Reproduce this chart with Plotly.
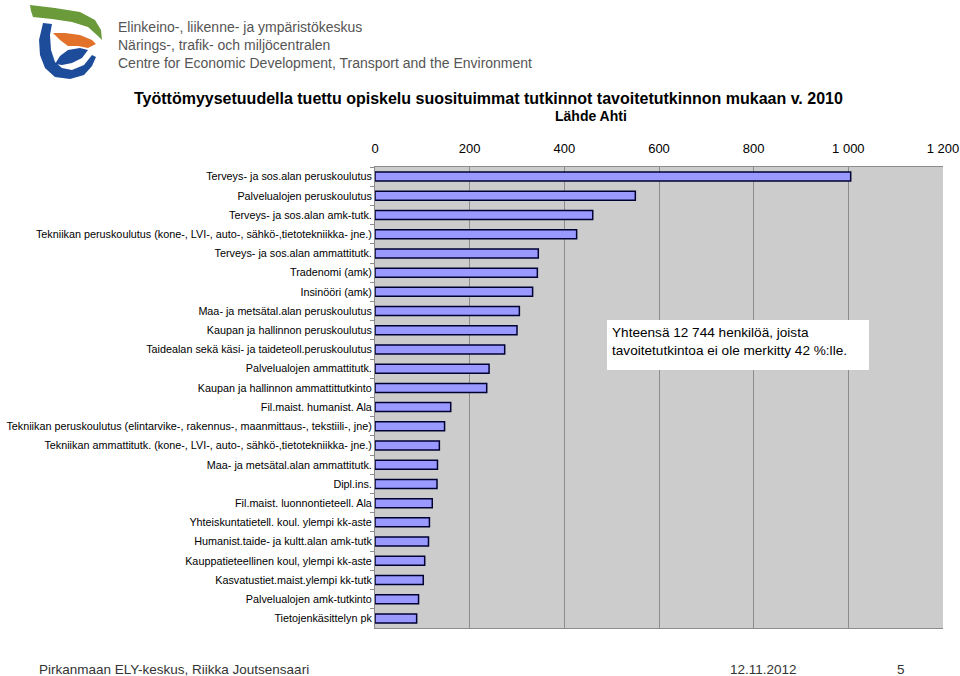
import plotly.graph_objects as go

categories = [
    "Terveys- ja sos.alan peruskoulutus",
    "Palvelualojen peruskoulutus",
    "Terveys- ja sos.alan amk-tutk.",
    "Tekniikan peruskoulutus (kone-, LVI-, auto-, sähkö-,tietotekniikka- jne.)",
    "Terveys- ja sos.alan ammattitutk.",
    "Tradenomi (amk)",
    "Insinööri (amk)",
    "Maa- ja metsätal.alan peruskoulutus",
    "Kaupan ja hallinnon peruskoulutus",
    "Taidealan sekä käsi- ja taideteoll.peruskoulutus",
    "Palvelualojen ammattitutk.",
    "Kaupan ja hallinnon ammattittutkinto",
    "Fil.maist. humanist. Ala",
    "Tekniikan peruskoulutus (elintarvike-, rakennus-, maanmittaus-, tekstiili-, jne)",
    "Tekniikan ammattitutk. (kone-, LVI-, auto-, sähkö-,tietotekniikka- jne.)",
    "Maa- ja metsätal.alan ammattitutk.",
    "Dipl.ins.",
    "Fil.maist. luonnontieteell. Ala",
    "Yhteiskuntatietell. koul. ylempi kk-aste",
    "Humanist.taide- ja kultt.alan amk-tutk",
    "Kauppatieteellinen koul, ylempi kk-aste",
    "Kasvatustiet.maist.ylempi kk-tutk",
    "Palvelualojen amk-tutkinto",
    "Tietojenkäsittelyn pk",
]
values = [1005, 550, 460, 426, 345, 343, 333, 305, 300, 274, 241, 236,
          160, 147, 136, 132, 131, 121, 115, 113, 105, 102, 92, 88]
tick_vals = [0, 200, 400, 600, 800, 1000, 1200]
tick_text = ["0", "200", "400", "600", "800", "1 000", "1 200"]

title_text = "Työttömyysetuudella tuettu opiskelu suosituimmat tutkinnot tavoitetutkinnon mukaan v. 2010"
subtitle_text = "Lähde Ahti"
note_text = "Yhteensä 12 744 henkilöä, joista<br>tavoitetutkintoa ei ole merkitty 42 %:lle."
org_lines = ["Elinkeino-, liikenne- ja ympäristökeskus",
             "Närings-, trafik- och miljöcentralen",
             "Centre for Economic Development, Transport and the Environment"]
footer_left = "Pirkanmaan ELY-keskus, Riikka Joutsensaari"
footer_date = "12.11.2012"
footer_page = "5"

W, H = 960, 676
ML, MT = 375, 167
MR, MB = W - 943, H - 628
PW, PH = W - ML - MR, H - MT - MB

def fx(px):
    return (px - ML) / PW

def fy(py):
    return (H - MB - py) / PH

def path(points, close=True):
    s = "M " + " L ".join(f"{fx(x):.4f},{fy(y):.4f}" for x, y in points)
    return s + (" Z" if close else "")

FONT = "Liberation Sans, Arial, sans-serif"

fig = go.Figure(go.Bar(
    x=values, y=categories, orientation="h",
    marker=dict(color="#9999FF", line=dict(color="#000033", width=1.5)),
    hoverinfo="x+y",
))

fig.update_layout(
    width=W, height=H,
    margin=dict(l=ML, r=MR, t=MT, b=MB, autoexpand=False),
    paper_bgcolor="white", plot_bgcolor="#CCCCCC",
    bargap=0.53, showlegend=False,
    font=dict(family=FONT, color="black"),
)
fig.update_xaxes(
    side="top", range=[0, 1200], tickvals=tick_vals, ticktext=tick_text,
    tickfont=dict(size=13), showgrid=True, gridcolor="#8C8C8C", gridwidth=1,
    showline=True, linecolor="#8C8C8C", mirror=True, zeroline=False,
    ticks="", ticklabelstandoff=8, ticklabeloverflow="allow",
    fixedrange=True, automargin=False,
)
fig.update_yaxes(
    autorange="reversed", tickfont=dict(size=10.8),
    showline=True, linecolor="#8C8C8C", ticks="outside", ticklen=4,
    tickcolor="#8C8C8C", tickson="boundaries", showgrid=False, fixedrange=True,
    automargin=False,
)

ann = []
ann.append(dict(x=fx(488), y=fy(98), xref="paper", yref="paper", text=f"<b>{title_text}</b>",
                showarrow=False, font=dict(size=16, family=FONT), xanchor="center", yanchor="middle"))
ann.append(dict(x=fx(591), y=fy(116), xref="paper", yref="paper", text=f"<b>{subtitle_text}</b>",
                showarrow=False, font=dict(size=14, family=FONT), xanchor="center", yanchor="middle"))
for i, line in enumerate(org_lines):
    ann.append(dict(x=fx(116), y=fy(27 + 18 * i), xref="paper", yref="paper", text=line,
                    showarrow=False, font=dict(size=14, family=FONT, color="#555555"),
                    xanchor="left", yanchor="middle"))
foot_font = dict(size=13.5, family=FONT, color="#333333")
ann.append(dict(x=fx(38), y=fy(669), xref="paper", yref="paper", text=footer_left, showarrow=False,
                font=foot_font, xanchor="left", yanchor="middle", borderpad=0))
ann.append(dict(x=fx(729), y=fy(669), xref="paper", yref="paper", text=footer_date, showarrow=False,
                font=foot_font, xanchor="left", yanchor="middle", borderpad=0))
ann.append(dict(x=fx(901), y=fy(669), xref="paper", yref="paper", text=footer_page, showarrow=False,
                font=foot_font, xanchor="center", yanchor="middle", borderpad=0))
ann.append(dict(x=fx(610), y=fy(341), xref="paper", yref="paper", text=note_text, showarrow=False,
                font=dict(size=13.6, family=FONT), xanchor="left", yanchor="middle", align="left"))
fig.update_layout(annotations=ann)

shapes = []
# note box
shapes.append(dict(type="rect", xref="paper", yref="paper", x0=fx(607), x1=fx(869), y0=fy(320), y1=fy(370),
                   fillcolor="white", line=dict(width=0), layer="above"))
# logo
shapes.append(dict(type="path", xref="paper", yref="paper", layer="above",
                   path=path([(30, 5), (55, 8), (80, 12), (95, 20), (101, 30), (102, 40), (98, 36),
                              (88, 27), (72, 22), (52, 19), (33, 17), (31, 11)]),
                   fillcolor="#6A9A3A", line=dict(width=0)))
shapes.append(dict(type="path", xref="paper", yref="paper", layer="above",
                   path=path([(43, 23), (52, 24), (50, 35), (51, 50), (55, 62), (62, 68), (72, 70),
                              (84, 65), (92, 55), (96, 57), (92, 66), (84, 75), (70, 79), (55, 77),
                              (45, 68), (40, 55), (39, 40)]),
                   fillcolor="#1D4C9B", line=dict(width=0)))
shapes.append(dict(type="path", xref="paper", yref="paper", layer="above",
                   path=path([(55, 64), (60, 56), (68, 50), (80, 48), (88, 50), (82, 58), (72, 63), (62, 65)]),
                   fillcolor="#1D4C9B", line=dict(width=0)))
shapes.append(dict(type="path", xref="paper", yref="paper", layer="above",
                   path=path([(53, 33), (65, 33), (80, 35), (92, 40), (96, 44), (88, 48), (78, 46),
                              (68, 46), (60, 40)]),
                   fillcolor="#E2722A", line=dict(width=0)))
fig.update_layout(shapes=shapes)

fig.write_html("out.html", config={"displayModeBar": False},
               post_script="document.body.style.margin='0';document.body.style.overflow='hidden';")
